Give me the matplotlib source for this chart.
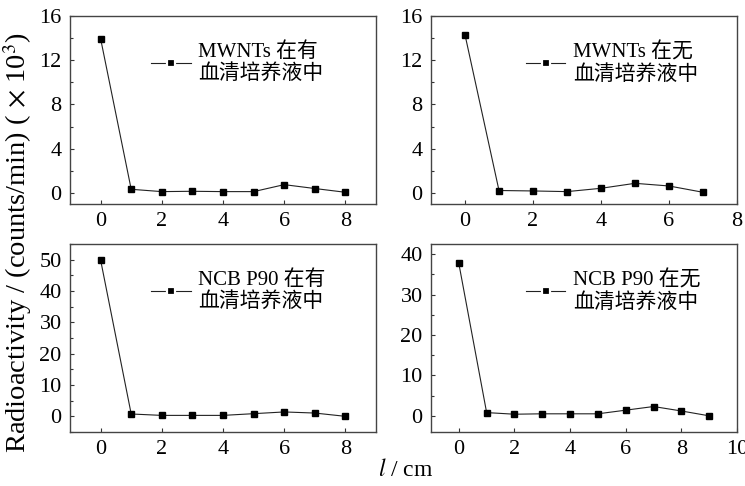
import matplotlib
matplotlib.use('Agg')
from matplotlib import pyplot as plt
from matplotlib.ticker import MultipleLocator
from matplotlib.lines import Line2D

plt.rcParams['font.family'] = ['Liberation Serif', 'Noto Sans CJK SC']
plt.rcParams['mathtext.fontset'] = 'stix'

# 数据
x_mwnt_serum = [0, 1, 2, 3, 4, 5, 6, 7, 8]
y_mwnt_serum = [13.95, 0.33, 0.12, 0.15, 0.12, 0.12, 0.75, 0.4, 0.06]

x_mwnt_free = [0, 1, 2, 3, 4, 5, 6, 7]
y_mwnt_free = [14.3, 0.22, 0.18, 0.12, 0.42, 0.87, 0.63, 0.06]

x_ncb_serum = [0, 1, 2, 3, 4, 5, 6, 7, 8]
y_ncb_serum = [49.9, 0.75, 0.3, 0.3, 0.3, 0.85, 1.4, 1.05, 0.0]

x_ncb_free = [0, 1, 2, 3, 4, 5, 6, 7, 8, 9]
y_ncb_free = [37.7, 0.8, 0.4, 0.5, 0.5, 0.5, 1.4, 2.3, 1.2, 0.0]

labels = ['MWNTs 在有\n血清培养液中', 'MWNTs 在无\n血清培养液中',
          'NCB P90 在有\n血清培养液中', 'NCB P90 在无\n血清培养液中']

fig = plt.figure(figsize=(7.45, 4.86), dpi=100)
# 手动摆放四个子图 (像素)
boxes = [(70, 16, 306, 188), (431, 16, 306, 188),
         (70, 244, 306, 188), (431, 244, 306, 188)]
W, H = 745, 486
axes = []
for (l, t, w, h) in boxes:
    axes.append(fig.add_axes([l / W, 1 - (t + h) / H, w / W, h / H]))

data = [(x_mwnt_serum, y_mwnt_serum), (x_mwnt_free, y_mwnt_free),
        (x_ncb_serum, y_ncb_serum), (x_ncb_free, y_ncb_free)]
xlims = [(-1, 9), (-1, 8), (-1, 9), (-1, 10)]
ylims = [(-1, 16), (-1, 16), (-5, 55), (-4, 42.5)]
ymaj = [4, 4, 10, 10]
leg_x = [0.265, 0.31, 0.265, 0.31]

for i, ax in enumerate(axes):
    xs, ys = data[i]
    ax.plot(xs, ys, color='#222222', lw=0.8, marker='s', ms=4,
            mfc='black', mec='black')
    ax.set_xlim(*xlims[i])
    ax.set_ylim(*ylims[i])
    ax.xaxis.set_major_locator(MultipleLocator(2))
    ax.yaxis.set_major_locator(MultipleLocator(ymaj[i]))
    ax.yaxis.set_minor_locator(MultipleLocator(ymaj[i] / 2))
    ax.tick_params(direction='in', length=3, width=0.8, labelsize=16,
                   top=False, right=False, pad=6, colors='#333333',
                   labelcolor='black')
    ax.tick_params(which='minor', direction='in', length=2, width=0.8,
                   colors='#333333')
    for s in ax.spines.values():
        s.set_linewidth(1.0)
        s.set_color('#444444')
    # 图例: 线-方块-线
    h = Line2D([], [], color='#222222', lw=0.8, marker='s', ms=6,
               mfc='black', mec='white', mew=1.6)
    leg = ax.legend([h], [labels[i]], loc='upper left',
                    bbox_to_anchor=(leg_x[i], 0.86), frameon=False,
                    fontsize=15, handlelength=1.9, handletextpad=0.35,
                    borderpad=0.0, borderaxespad=0.0, labelspacing=0.1)
    for t in leg.get_texts():
        t.set_linespacing(1.15)

fig.text(0.024, 0.5, 'Radioactivity / (counts/min) ( $\\times$ 10$^{3}$)',
         rotation=90, ha='center', va='center', fontsize=20.5)
fig.text(0.545, 0.033, '$\\mathit{l}$ / cm', ha='center', va='center',
         fontsize=17)

plt.savefig('out.png', dpi=100)
